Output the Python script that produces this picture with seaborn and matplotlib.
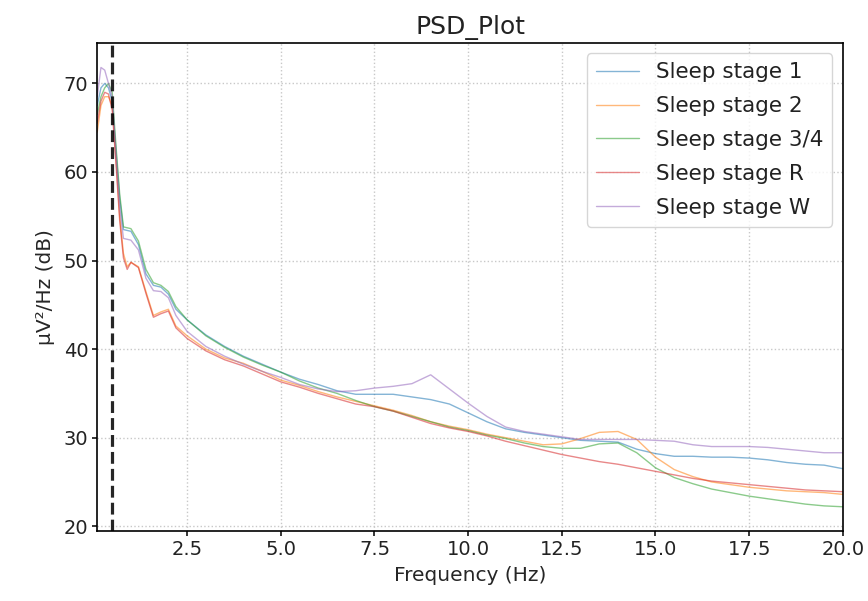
import matplotlib
matplotlib.use("Agg")
import matplotlib.pyplot as plt
import seaborn as sns
import pandas as pd

# frequency grid (Hz) and PSD values (dB)
freqs = [0.1, 0.2, 0.3, 0.4, 0.5, 0.6, 0.7, 0.8, 0.9, 1.0, 1.2, 1.4, 1.6, 1.8, 2.0,
         2.2, 2.5, 3.0, 3.5, 4.0, 4.5, 5.0, 5.5, 6.0, 6.5, 7.0, 7.5, 8.0, 8.5, 9.0,
         9.5, 10.0, 10.5, 11.0, 11.5, 12.0, 12.5, 13.0, 13.5, 14.0, 14.5, 15.0, 15.5,
         16.0, 16.5, 17.0, 17.5, 18.0, 18.5, 19.0, 19.5, 20.0]

stage_1 = [67.5, 69.5, 70.0, 69.5, 68.0, 62.5, 57.0, 53.5, 53.4, 53.3, 51.8, 48.5, 47.2, 47.0, 46.2,
           44.5, 43.3, 41.6, 40.3, 39.2, 38.3, 37.4, 36.6, 36.0, 35.3, 34.9, 34.9, 34.9, 34.6, 34.3,
           33.8, 32.8, 31.8, 31.0, 30.6, 30.3, 30.0, 29.7, 29.6, 29.5, 28.7, 28.2, 27.9,
           27.9, 27.8, 27.8, 27.7, 27.5, 27.2, 27.0, 26.9, 26.5]
stage_2 = [64.5, 67.5, 68.5, 68.5, 67.5, 61.5, 55.0, 50.8, 49.3, 49.8, 49.3, 46.5, 43.8, 44.2, 44.5,
           42.6, 41.5, 40.0, 39.0, 38.4, 37.5, 36.5, 35.9, 35.2, 34.6, 34.1, 33.6, 33.1, 32.5, 31.8,
           31.3, 30.9, 30.4, 30.0, 29.6, 29.2, 29.3, 29.9, 30.6, 30.7, 29.8, 27.8, 26.4,
           25.6, 25.0, 24.7, 24.4, 24.2, 24.0, 23.9, 23.8, 23.6]
stage_34 = [66.5, 68.5, 69.5, 70.0, 69.0, 63.0, 57.5, 53.8, 53.7, 53.6, 52.2, 49.0, 47.5, 47.2, 46.5,
            44.8, 43.3, 41.5, 40.2, 39.1, 38.2, 37.4, 36.4, 35.6, 35.0, 34.2, 33.5, 33.0, 32.4, 31.8,
            31.2, 30.8, 30.3, 29.9, 29.4, 29.0, 28.8, 28.8, 29.3, 29.4, 28.3, 26.6, 25.5,
            24.8, 24.2, 23.8, 23.4, 23.1, 22.8, 22.5, 22.3, 22.2]
stage_r = [65.5, 68.0, 69.0, 68.8, 67.0, 61.0, 54.5, 50.3, 49.0, 49.8, 49.2, 46.3, 43.6, 44.0, 44.3,
           42.4, 41.2, 39.8, 38.8, 38.1, 37.2, 36.3, 35.7, 35.0, 34.4, 33.8, 33.5, 33.0, 32.3, 31.6,
           31.1, 30.7, 30.2, 29.6, 29.1, 28.6, 28.1, 27.7, 27.3, 27.0, 26.6, 26.2, 25.8,
           25.4, 25.1, 24.9, 24.7, 24.5, 24.3, 24.1, 24.0, 23.9]
stage_w = [68.5, 71.8, 71.5, 70.0, 68.5, 62.0, 56.0, 52.5, 52.4, 52.3, 51.2, 48.0, 46.6, 46.5, 45.8,
           43.8, 42.0, 40.3, 39.2, 38.3, 37.5, 36.8, 36.0, 35.5, 35.2, 35.3, 35.6, 35.8, 36.1, 37.1,
           35.5, 33.9, 32.4, 31.2, 30.7, 30.4, 30.1, 29.8, 29.8, 29.8, 29.8, 29.7, 29.6,
           29.2, 29.0, 29.0, 29.0, 28.9, 28.7, 28.5, 28.3, 28.3]

stage_names = ["Sleep stage 1", "Sleep stage 2", "Sleep stage 3/4",
               "Sleep stage R", "Sleep stage W"]
stage_values = [stage_1, stage_2, stage_34, stage_r, stage_w]

frames = []
for name, vals in zip(stage_names, stage_values):
    frames.append(pd.DataFrame({"freq": freqs, "psd": vals, "stage": name}))
df = pd.concat(frames, ignore_index=True)

sns.set_theme(style="whitegrid", rc={
    "axes.edgecolor": "black",
    "axes.linewidth": 1.2,
    "grid.linestyle": ":",
    "grid.color": "#c8c8c8",
    "xtick.bottom": True,
    "ytick.left": True,
    "text.color": "#222222",
    "xtick.color": "black",
    "ytick.color": "black",
    "xtick.labelcolor": "#222222",
    "ytick.labelcolor": "#222222",
})
plt.rcParams["font.family"] = ["DejaVu Sans"]

fig = plt.figure(figsize=(8.68, 6.01), dpi=100)
ax = fig.add_axes([0.112, 0.117, 0.859, 0.812])

palette = sns.color_palette("tab10", 5)
sns.lineplot(data=df, x="freq", y="psd", hue="stage", palette=palette,
             linewidth=1.0, alpha=0.55, ax=ax)

ax.axvline(0.5, color="black", linestyle="--", linewidth=2.3, alpha=0.85)

ax.set_xlim(0.1, 20.0)
ax.set_ylim(19.5, 74.6)
ax.set_xticks([2.5, 5.0, 7.5, 10.0, 12.5, 15.0, 17.5, 20.0])
ax.set_yticks([20, 30, 40, 50, 60, 70])
ax.tick_params(labelsize=14, length=3.5, width=1.1, pad=3)

ax.set_title("PSD_Plot", fontsize=18, pad=6)
ax.set_xlabel("Frequency (Hz)", fontsize=14.5, labelpad=5)
ax.set_ylabel("µV²/Hz (dB)", fontsize=14.5, labelpad=6)

ax.legend(loc="upper right", fontsize=15.5, frameon=True, title=None,
          handlelength=2.0, labelspacing=0.65, borderaxespad=0.5)

plt.savefig("out.png", dpi=100)
